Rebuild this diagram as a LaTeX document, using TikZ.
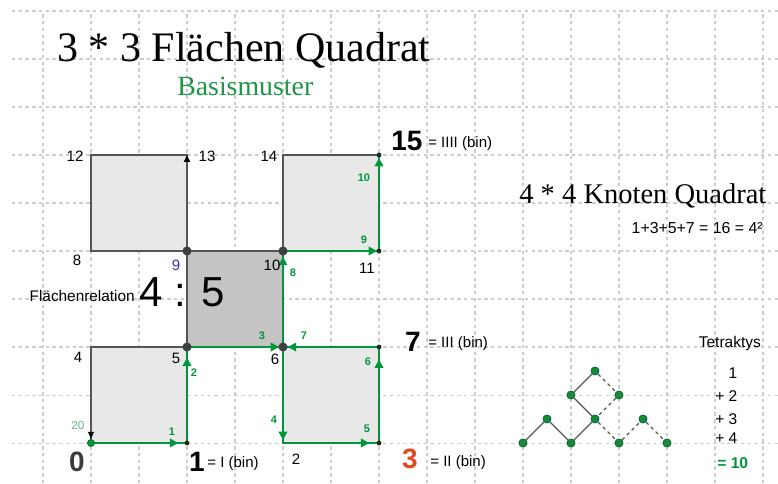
\documentclass[tikz,border=0pt]{standalone}
\usepackage{fontspec}
\setmainfont{Liberation Serif}
\newfontfamily\arialfont{Liberation Sans}
\usetikzlibrary{arrows.meta,decorations.markings}

\definecolor{ggreen}{RGB}{0,150,60}
\definecolor{lgreen}{RGB}{100,185,140}
\definecolor{tgreen}{RGB}{20,140,60}
\definecolor{tgreenedge}{RGB}{10,95,40}
\definecolor{lightsq}{RGB}{232,232,232}
\definecolor{darksq}{RGB}{196,196,196}
\definecolor{edgegray}{RGB}{85,85,85}
\definecolor{dotgray}{RGB}{64,64,64}
\definecolor{gridgray}{RGB}{205,205,205}
\definecolor{ninecol}{RGB}{64,48,176}
\definecolor{redorange}{RGB}{225,75,30}
\definecolor{titlegreen}{RGB}{30,150,70}
\definecolor{zerogray}{RGB}{60,60,60}

\newcommand\fsz[1]{\fontsize{#1}{#1}\selectfont}

\begin{document}
\begin{tikzpicture}[x=1cm,y=1cm,
  gridline/.style={gridgray, line width=0.6pt, dash pattern=on 2pt off 2pt},
  sqline/.style={edgegray, line width=0.7pt},
  gline/.style={ggreen, line width=1.2pt},
  garrow/.style={gline, postaction={decorate},
     decoration={markings, mark=at position #1 with {\arrow{Triangle[length=5pt,width=5pt]}}}},
  grayarrow/.style={sqline, -{Triangle[length=4pt,width=3.5pt,black]}},
  bigdot/.style={circle, fill=dotgray, inner sep=0pt, minimum size=0.19cm},
  smalldot/.style={circle, fill=black!85, inner sep=0pt, minimum size=0.1cm},
  zerodot/.style={circle, fill=ggreen, draw=tgreenedge, line width=0.3pt, inner sep=0pt, minimum size=0.15cm},
  tdot/.style={circle, fill=tgreen, draw=tgreenedge, line width=0.4pt, inner sep=0pt, minimum size=0.17cm},
  tsolid/.style={edgegray, line width=0.7pt},
  tdashed/.style={edgegray, line width=0.7pt, dash pattern=on 2pt off 2pt},
  lbl/.style={font=\arialfont\fsz{8.9pt}, inner sep=0pt},
  glbl/.style={font=\arialfont\bfseries\fsz{6.5pt}, text=ggreen, inner sep=0pt},
  biglbl/.style={font=\arialfont\bfseries\fsz{16.6pt}, inner sep=0pt},
  binlbl/.style={font=\arialfont\fsz{8.9pt}, inner sep=0pt, anchor=west},
]
\useasboundingbox (-1.8958,-0.8333) rectangle (14.3125,9.2292);
\fill[white] (-1.8958,-0.8333) rectangle (14.3125,9.2292);

% grid
\begin{scope}
\clip (-1.646,-0.84) rectangle (14.32,9.02);
\foreach \y in {0,...,9} \draw[gridline] (-1.646,\y) -- (14.32,\y);
\foreach \x in {-1,...,14} \draw[gridline] (\x,-0.84) -- (\x,9);
\end{scope}

% points
\foreach \i/\x/\y in {0/0/0,1/2/0,2/4/0,3/6/0,4/0/2,5/2/2,6/4/2,7/6/2,8/0/4,9/2/4,10/4/4,11/6/4,12/0/6,13/2/6,14/4/6,15/6/6}
  \coordinate (p\i) at (\x,\y);

% squares
\fill[lightsq] (p0) rectangle (p5);
\fill[lightsq] (p2) rectangle (p7);
\fill[lightsq] (p8) rectangle (p13);
\fill[lightsq] (p10) rectangle (p15);
\fill[darksq] (p5) rectangle (p10);
\draw[sqline] (p0) rectangle (p5);
\draw[sqline] (p2) rectangle (p7);
\draw[sqline] (p8) rectangle (p13);
\draw[sqline] (p10) rectangle (p15);
\draw[sqline] (p5) rectangle (p10);

% gray arrows
\draw[grayarrow] (p9) -- (p13);
\draw[grayarrow, shorten >=2.6pt] (p4) -- (p0);

% green path
\draw[garrow=0.91] (p0) -- (p1);
\draw[garrow=0.89] (p1) -- (p5);
\draw[garrow=0.96] (p5) -- (p6);
\draw[garrow=0.97] (p6) -- (p2);
\draw[garrow=0.90] (p2) -- (p3);
\draw[garrow=0.87] (p3) -- (p7);
\draw[garrow=0.95] (p7) -- (p6);
\draw[garrow=0.94] (p6) -- (p10);
\draw[garrow=0.98] (p10) -- (p11);
\draw[garrow=0.97] (p11) -- (p15);

% dots
\node[zerodot] (d0) at (p0) {};
\node[smalldot] (d1) at (p1) {};
\node[smalldot] (d3) at (p3) {};
\node[smalldot] (d7) at (p7) {};
\node[smalldot] (d11) at (p11) {};
\node[smalldot] (d15) at (p15) {};
\node[bigdot] (d5) at (p5) {};
\node[bigdot] (d6) at (p6) {};
\node[bigdot] (d9) at (p9) {};
\node[bigdot] (d10) at (p10) {};

% point labels
\node[lbl] (l12) at (-0.333,5.979) {12};
\node[lbl] (l13) at (2.417,5.979) {13};
\node[lbl] (l8) at (-0.292,3.8125) {8};
\node[lbl, text=ninecol] (l9) at (1.771,3.708) {9};
\node[lbl] (l14) at (3.708,5.979) {14};
\node[lbl] (l10) at (3.771,3.708) {10};
\node[lbl] (l11) at (5.75,3.646) {11};
\node[lbl] (l4) at (-0.271,1.792) {4};
\node[lbl] (l5) at (1.771,1.771) {5};
\node[lbl] (l6) at (3.833,1.75) {6};
\node[lbl] (l2) at (4.271,-0.333) {2};
\node[lbl, font=\arialfont\fsz{7pt}, text=lgreen] (l20) at (-0.271,0.375) {20};

% green arrow labels
\node[glbl] (g1) at (1.6875,0.229) {1};
\node[glbl] (g2) at (2.146,1.458) {2};
\node[glbl] (g3) at (3.5625,2.229) {3};
\node[glbl] (g4) at (3.8125,0.479) {4};
\node[glbl] (g5) at (5.75,0.292) {5};
\node[glbl] (g6) at (5.771,1.6875) {6};
\node[glbl] (g7) at (4.4375,2.229) {7};
\node[glbl] (g8) at (4.208,3.542) {8};
\node[glbl] (g9) at (5.6875,4.229) {9};
\node[glbl] (g10) at (5.6875,5.521) {10};

% big labels
\node[biglbl, text=zerogray] (b0) at (-0.292,-0.396) {0};
\node[biglbl] (b1) at (2.208,-0.396) {1};
\node[binlbl] (bin1) at (2.417,-0.42) {= I (bin)};
\node[biglbl, text=redorange] (b3) at (6.646,-0.333) {3};
\node[binlbl] (bin3) at (7.0625,-0.40) {= II (bin)};
\node[biglbl] (b7) at (6.708,2.104) {7};
\node[binlbl] (bin7) at (7.02,2.07) {= III (bin)};
\node[biglbl] (b15) at (6.583,6.29) {15};
\node[binlbl] (bin15) at (7.02,6.24) {= IIII (bin)};

% ratio
\node[lbl, font=\arialfont\fsz{9.1pt}, anchor=east] (rel) at (0.917,3.0625) {Flächenrelation};
\node[inner sep=0pt, font=\arialfont\fsz{24.9pt}, anchor=west] (ratio) at (1.0,3.146) {4 : 5};

% titles
\node[inner sep=0pt, anchor=base west, font=\fsz{24.9pt}] (title) at (-0.708,7.94) {3 * 3 Flächen Quadrat};
\node[inner sep=0pt, anchor=base west, font=\fsz{16.5pt}, text=titlegreen] (basis) at (1.79,7.25) {Basismuster};
\node[inner sep=0pt, anchor=base west, font=\fsz{16.9pt}] (knoten) at (8.917,5.0) {4 * 4 Knoten Quadrat};
\node[lbl, font=\arialfont\fsz{9.4pt}, anchor=east] (eq) at (14.0,4.48) {1+3+5+7 = 16 = 4²};

% tetraktys
\node[tdot] (t1) at (10.5,1.5) {};
\node[tdot] (t2) at (10,1) {};
\node[tdot] (t3) at (11,1) {};
\node[tdot] (t4) at (9.5,0.5) {};
\node[tdot] (t5) at (10.5,0.5) {};
\node[tdot] (t6) at (11.5,0.5) {};
\node[tdot] (t7) at (9,0) {};
\node[tdot] (t8) at (10,0) {};
\node[tdot] (t9) at (11,0) {};
\node[tdot] (t10) at (12,0) {};
\draw[tsolid] (t7) -- (t4);
\draw[tsolid] (t4) -- (t8);
\draw[tsolid] (t8) -- (t5);
\draw[tsolid] (t5) -- (t2);
\draw[tsolid] (t2) -- (t1);
\draw[tdashed] (t1) -- (t3);
\draw[tdashed] (t3) -- (t5);
\draw[tdashed] (t5) -- (t9);
\draw[tdashed] (t9) -- (t6);
\draw[tdashed] (t6) -- (t10);

\node[lbl, font=\arialfont\fsz{9.2pt}] (tet) at (13.31,2.083) {Tetraktys};
\node[lbl, font=\arialfont\fsz{9.2pt}] (s1) at (13.375,1.458) {1};
\node[lbl, font=\arialfont\fsz{9.2pt}, anchor=west] (s2) at (13.0,0.979) {+ 2};
\node[lbl, font=\arialfont\fsz{9.2pt}, anchor=west] (s3) at (13.0,0.5) {+ 3};
\node[lbl, font=\arialfont\fsz{9.2pt}, anchor=west] (s4) at (13.0,0.104) {+ 4};
\node[lbl, font=\arialfont\bfseries\fsz{9.3pt}, text=ggreen, anchor=west] (s10) at (13.04,-0.417) {= 10};
\end{tikzpicture}
\end{document}
